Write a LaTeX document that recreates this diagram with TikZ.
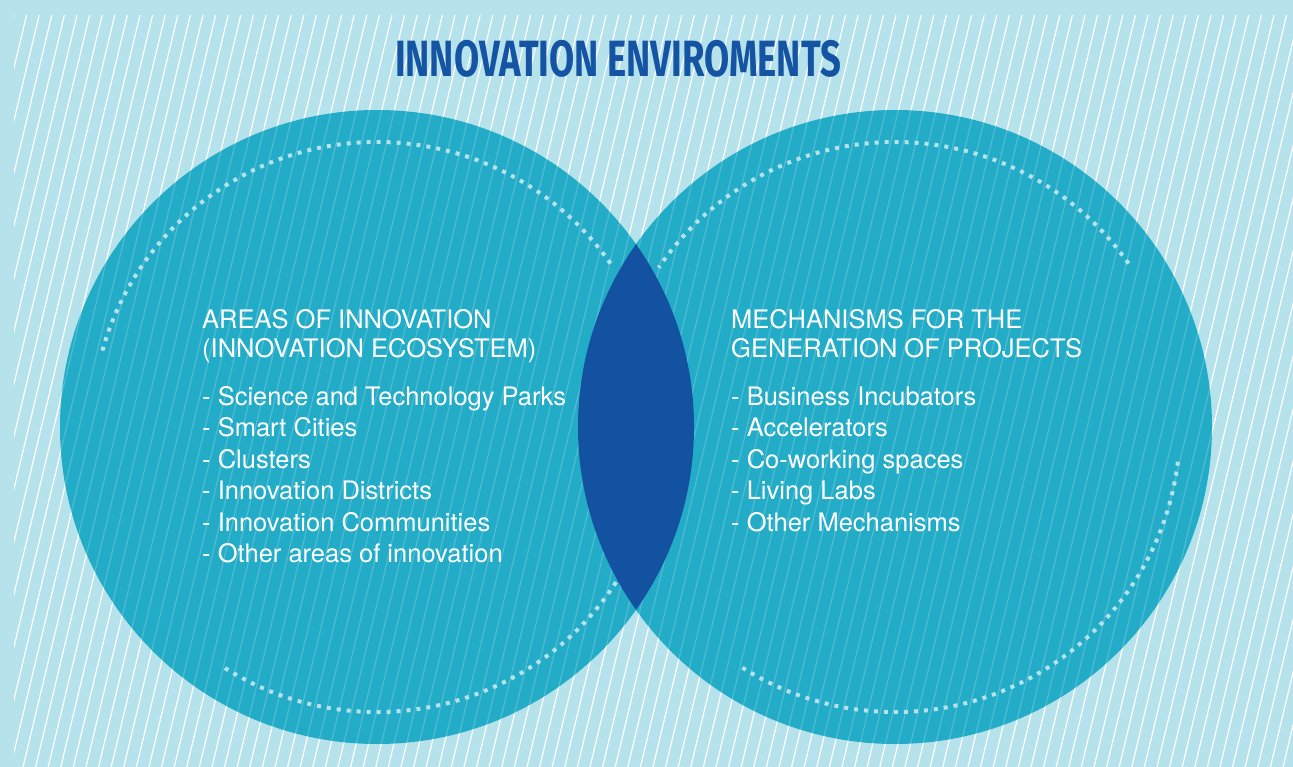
\documentclass[tikz,border=0pt]{standalone}
\usepackage{fontspec}
\setmainfont{TeX Gyre Heros}
\newfontfamily\titlefont{Fira Sans}
\usepackage{tikz}
\definecolor{bgblue}{HTML}{B6E2EC}
\definecolor{ringblue}{HTML}{23ACC7}
\definecolor{lensblue}{HTML}{1352A0}
\definecolor{titleblue}{HTML}{1553A3}
\tikzset{
  hatch/.style={white, line width=1.2pt},
  dots/.style={bgblue, line width=4pt, dash pattern=on 4pt off 6pt},
  heading/.style={white, anchor=base west, align=left, inner sep=0pt, font=\fontsize{25.5}{29.5}\selectfont},
  items/.style={white, anchor=base west, align=left, inner sep=0pt, font=\fontsize{25.5}{31.5}\selectfont},
}

\begin{document}
\begin{tikzpicture}[x=1pt,y=-1pt]
			\useasboundingbox (0,0) rectangle (1293,767);
			\fill[bgblue] (0,0) rectangle (1293,767);
			\coordinate (Lc) at (377,427);
			\coordinate (Rc) at (895,427);
			% stripes on the background
			\begin{scope}
				\clip (14,15) rectangle (1293,767);
				\foreach \x in {14,26.6,...,1480}
					\draw[hatch] (\x,15) -- ++(-180,752);
			\end{scope}
			% the two circles
			\fill[ringblue] (Lc) circle[radius=317pt] (Rc) circle[radius=317pt];
			\begin{scope}
				\clip (Lc) circle[radius=317pt] (Rc) circle[radius=317pt];
				\foreach \x in {14,26.6,...,1480}
					\draw[hatch, opacity=0.2] (\x,15) -- ++(-180,752);
			\end{scope}
			% overlap
			\begin{scope}
				\clip (Lc) circle[radius=317pt];
				\fill[lensblue] (Rc) circle[radius=317pt];
			\end{scope}
			% dotted arcs
			\draw[dots] (Lc) ++(35:285pt) arc[start angle=35, end angle=165, radius=285pt];
			\draw[dots] (Lc) ++(-33:285pt) arc[start angle=-33, end angle=-123, radius=285pt];
			\draw[dots] (Rc) ++(35:285pt) arc[start angle=35, end angle=146, radius=285pt];
			\draw[dots] (Rc) ++(-7:285pt) arc[start angle=-7, end angle=-123, radius=285pt];
			\node[titleblue, xscale=0.715, font=\titlefont\bfseries\fontsize{51}{51}\selectfont] (title) at (618,59) {INNOVATION ENVIROMENTS};
			\node[heading] (areas) at (202,357.5) {AREAS OF INNOVATION\\(INNOVATION ECOSYSTEM)};
			\node[items] (arealist) at (202,562.5) {- Science and Technology Parks\\- Smart Cities\\- Clusters\\- Innovation Districts\\- Innovation Communities\\- Other areas of innovation};
			\node[heading] (mechs) at (731,357.5) {MECHANISMS FOR THE\\GENERATION OF PROJECTS};
			\node[items] (mechlist) at (731,531) {- Business Incubators\\- Accelerators\\- Co-working spaces\\- Living Labs\\- Other Mechanisms};
		\end{tikzpicture}
\end{document}
